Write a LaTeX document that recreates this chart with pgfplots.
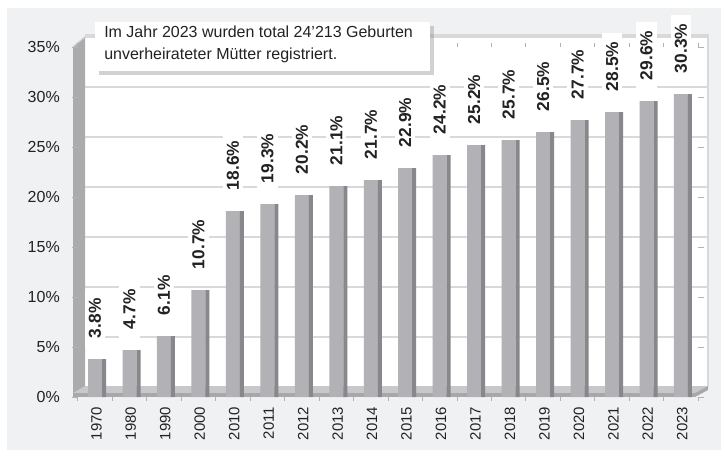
\documentclass[border=0pt]{standalone}
\usepackage{pgfplots}
\pgfplotsset{compat=1.18}
\usepackage{fontspec}
\setmainfont{Liberation Sans}
\usetikzlibrary{shadows}
\definecolor{bg}{HTML}{F0F1F3}
\definecolor{barfront}{HTML}{B2B2B6}
\definecolor{barside}{HTML}{88888C}
\definecolor{floortop}{HTML}{C8C8CB}
\definecolor{floorfront}{HTML}{A8A8AB}
\definecolor{wall}{HTML}{ABABAE}
\definecolor{grid}{HTML}{D9D9DC}
\definecolor{txt}{HTML}{222222}
\pgfplotstableread{
x v
0 3.8
1 4.7
2 6.1
3 10.7
4 18.6
5 19.3
6 20.2
7 21.1
8 21.7
9 22.9
10 24.2
11 25.2
12 25.7
13 26.5
14 27.7
15 28.5
16 29.6
17 30.3
}\datatable
\begin{document}
\begin{tikzpicture}[x=0.75pt,y=0.75pt]
\fill[white] (0,0) rectangle (725,455);
\fill[bg] (7,5) rectangle (721,447);
\begin{scope}[shift={(0,455)}, yscale=-1]
  % back wall / plot area
  \fill[white] (85,35) rectangle (708,386);
  \draw[grid, line width=1.2] (85,35) -- (708,35) -- (708,386);
  \foreach \g in {337,287,237,187,137,87,37}{
    \draw[grid, line width=1.5] (85,\g) -- (708,\g);
  }
  % left wall
  \fill[wall] (73,397) -- (73,47) -- (85,37) -- (85,387) -- cycle;
  \draw[white!80!black, line width=1] (73,47) -- (85,37);
  % floor
  \fill[floortop] (73,393) -- (695,393) -- (708,386) -- (85,386) -- cycle;
  \fill[floorfront] (73,393) rectangle (695,397);
  \fill[floorfront] (695,393) -- (708,386) -- (708,390) -- (695,397) -- cycle;
\end{scope}
\begin{scope}[shift={(77.8,58)}]
\begin{axis}[
  at={(0pt,0pt)}, anchor=south west,
  scale only axis, width=465.3pt, height=262.5pt,
  xmin=-0.5, xmax=17.5, ymin=0, ymax=35,
  clip=false,
  axis line style={draw=none},
  /pgf/number format/assume math mode=true,
  ytick={0,5,...,35},
  yticklabel={\pgfmathprintnumber{\tick}\%},
  yticklabel style={font=\fontsize{12}{12}\selectfont, text=txt, xshift=-6pt},
  xtick={0,...,17},
  xticklabels={1970,1980,1990,2000,2010,2011,2012,2013,2014,2015,2016,2017,2018,2019,2020,2021,2022,2023},
  xticklabel style={font=\fontsize{11.2}{11.2}\selectfont, text=txt, rotate=90, anchor=east, yshift=-1pt},
  minor xtick={-0.5,0.5,...,17.5},
  tick align=outside,
  major tick length=4pt,
  minor tick length=3pt,
  x tick style={draw=none},
  minor x tick style={draw=gray!60, line width=0.6pt},
  y tick style={draw=gray!60, line width=0.6pt},
]
\addplot[ybar, bar width=10.5pt, bar shift=0pt, fill=barfront, draw=none,
  nodes near coords={\pgfmathprintnumber[fixed,precision=1,fixed zerofill]{\pgfplotspointmeta}\%},
  every node near coord/.append style={yshift=9pt, rotate=90, anchor=west,
    font=\bfseries\fontsize{13}{13}\selectfont, text=txt, fill=white,
    inner xsep=6.5pt, inner ysep=3pt},
] table[x=x, y=v] {\datatable};
\addplot[ybar, bar width=3pt, bar shift=6.75pt, fill=barside, draw=none] table[x=x, y=v] {\datatable};
\end{axis}
\end{scope}
\fill[white, drop shadow={shadow xshift=3pt, shadow yshift=-3pt, opacity=0.35}] (95,384) rectangle (430,433);
\node[anchor=north west, inner sep=0pt, align=left, text=txt,
  font=\fontsize{12}{16}\selectfont] at (104,429)
  {Im Jahr 2023 wurden total 24'213 Geburten\\unverheirateter Mütter registriert.};
\pgfresetboundingbox
\path (0,0) rectangle (725,455);
\end{tikzpicture}
\end{document}
